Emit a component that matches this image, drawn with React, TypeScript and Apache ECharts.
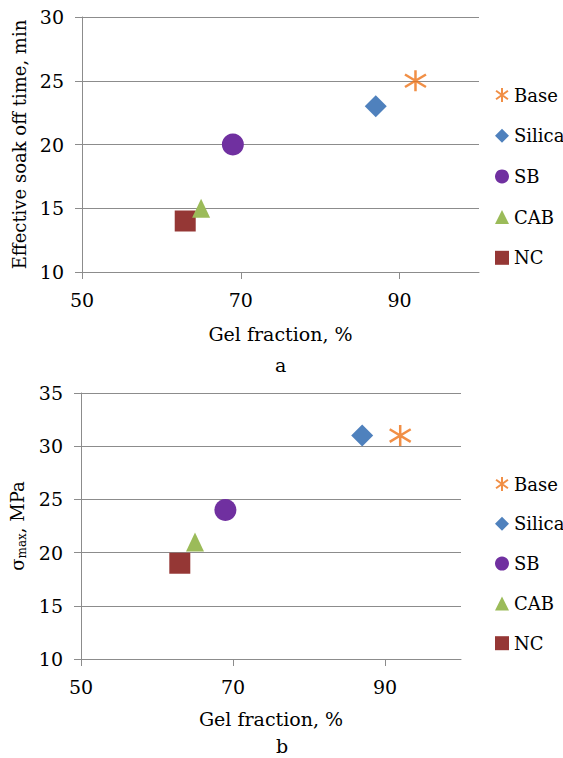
import React, { useEffect, useRef } from "react";
import * as echarts from "echarts";

const seriesNames = ["Base", "Silica", "SB", "CAB", "NC"];
const gelFraction = [92, 87, 69, 65, 63];
const soakOffTime = [25, 23, 20, 15, 14];
const sigmaMax = [31, 31, 24, 21, 19];
const xTicks = [50, 70, 90];
const colors = ["#EE7318", "#4F81BD", "#7030A0", "#9BBB59", "#953735"];
const symbols = [
  "path://M0,-10L0,10M-8.5,-6L8.5,6M-8.5,6L8.5,-6",
  "diamond",
  "circle",
  "triangle",
  "rect",
];
const symbolSizes = [21, 22, 22, [18, 19], 21];

const FONT = "DejaVu Serif";
const FS_TICK = 19;
const FS_NAME = 19;
const FS_YNAME = 18;
const FS_LEG = 18;

export default function App() {
  const ref = useRef<HTMLDivElement>(null);
  useEffect(() => {
    document.body.style.margin = "0";
    const chart = echarts.init(ref.current!, null, { renderer: "svg" });

    const gridDefs = [
      { left: 82, top: 17, width: 397, height: 255 },
      { left: 81, top: 393, width: 380, height: 266 },
    ];

    const axisCommon = {
      axisLine: { show: true, lineStyle: { color: "#8c8c8c", width: 1 } },
      axisTick: { show: true, length: 7, lineStyle: { color: "#8c8c8c" } },
      nameTextStyle: { fontFamily: FONT, fontSize: FS_NAME, color: "#000" },
      axisLabel: { fontFamily: FONT, fontSize: FS_TICK, color: "#000" },
    };

    const xAxes = gridDefs.map((_, i) => ({
      type: "value",
      gridIndex: i,
      min: 50,
      max: 100,
      interval: 20,
      name: "Gel fraction, %",
      nameLocation: "middle",
      nameGap: i === 0 ? 52 : 50,
      ...axisCommon,
      axisTick: { ...axisCommon.axisTick, customValues: xTicks },
      axisLabel: { ...axisCommon.axisLabel, margin: 18, customValues: xTicks },
      splitLine: { show: false },
    }));

    const yAxes = [
      {
        type: "value",
        gridIndex: 0,
        min: 10,
        max: 30,
        interval: 5,
        name: "Effective soak off time, min",
        nameLocation: "middle",
        nameGap: 52,
        ...axisCommon,
        nameTextStyle: { fontFamily: FONT, fontSize: FS_YNAME, color: "#000" },
        axisLabel: { ...axisCommon.axisLabel, margin: 18 },
        splitLine: { show: true, lineStyle: { color: "#8c8c8c", width: 1 } },
      },
      {
        type: "value",
        gridIndex: 1,
        min: 10,
        max: 35,
        interval: 5,
        name: "{s|σ}{sub|max}{s|, MPa}",
        nameLocation: "middle",
        nameGap: 48,
        ...axisCommon,
        nameTextStyle: {
          fontFamily: FONT,
          fontSize: FS_YNAME,
          color: "#000",
          rich: {
            s: { fontFamily: FONT, fontSize: FS_YNAME, color: "#000" },
            sub: {
              fontFamily: FONT,
              fontSize: 12,
              color: "#000",
              padding: [9, 0, 0, 0],
            },
          },
        },
        axisLabel: { ...axisCommon.axisLabel, margin: 18 },
        splitLine: { show: true, lineStyle: { color: "#8c8c8c", width: 1 } },
      },
    ];

    const series: any[] = [];
    [soakOffTime, sigmaMax].forEach((ys, g) => {
      seriesNames.forEach((name, i) => {
        const isStar = i === 0;
        series.push({
          type: "scatter",
          name,
          xAxisIndex: g,
          yAxisIndex: g,
          data: [[gelFraction[i], ys[i]]],
          symbol: symbols[i],
          symbolSize: symbolSizes[i],
          itemStyle: isStar
            ? { color: "rgba(0,0,0,0)", borderColor: colors[i], borderWidth: 2.5 }
            : { color: colors[i], opacity: 1 },
          z: 10 - i,
        });
      });
    });

    const legendCommon = {
      orient: "vertical",
      left: 490,
      itemWidth: 14,
      itemHeight: 14,
      textStyle: { fontFamily: FONT, fontSize: FS_LEG, color: "#000", lineHeight: 22 },
      data: seriesNames,
      selectedMode: false,
    };

    chart.setOption({
      animation: false,
      backgroundColor: "#fff",
      textStyle: { fontFamily: FONT },
      grid: gridDefs,
      xAxis: xAxes,
      yAxis: yAxes,
      legend: [
        { ...legendCommon, top: 79, itemGap: 18.7 },
        { ...legendCommon, top: 468, itemGap: 17.8 },
      ],
      graphic: [
        {
          type: "text",
          left: 275,
          top: 355,
          style: { text: "a", fontFamily: FONT, fontSize: FS_NAME, fill: "#000" },
        },
        {
          type: "text",
          left: 276,
          top: 736,
          style: { text: "b", fontFamily: FONT, fontSize: FS_NAME, fill: "#000" },
        },
      ],
      series,
    });
    return () => chart.dispose();
  }, []);
  return <div ref={ref} style={{ width: 563, height: 758 }} />;
}
